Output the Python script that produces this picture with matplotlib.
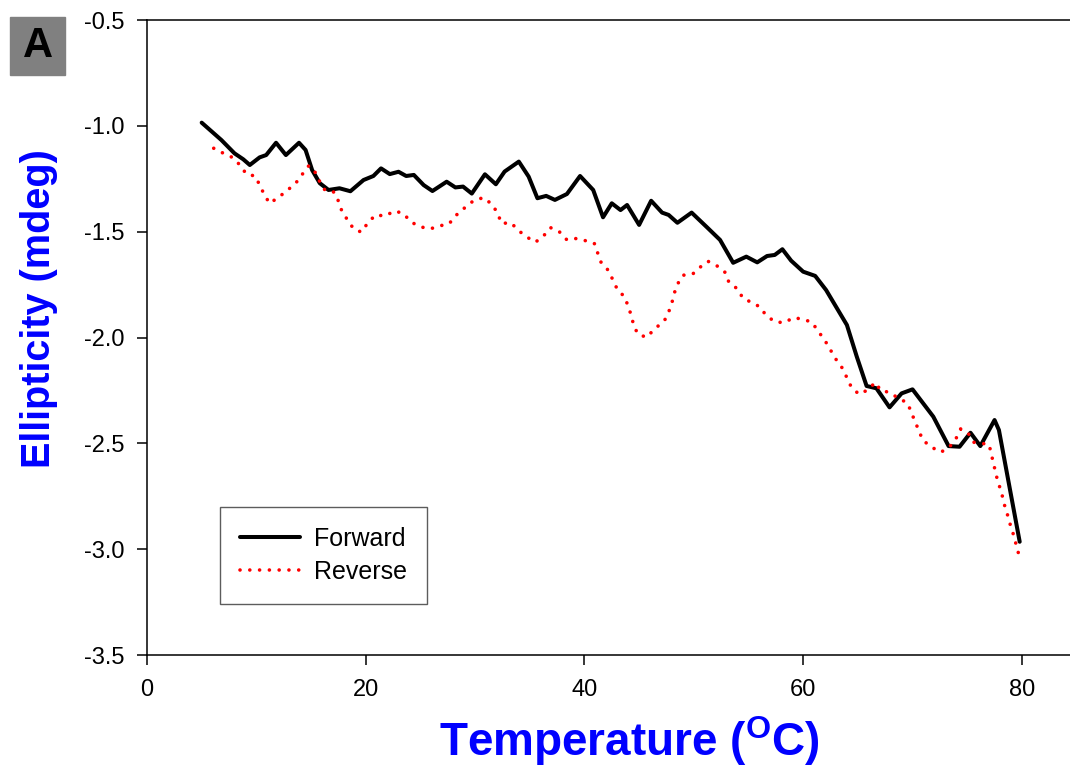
import matplotlib.pyplot as plt
from matplotlib.patches import Rectangle

plt.rcParams['font.family'] = ['Liberation Sans', 'DejaVu Sans']
plt.rcParams['axes.unicode_minus'] = False
plt.rcParams['mathtext.fontset'] = 'custom'
plt.rcParams['mathtext.rm'] = 'Liberation Sans:bold'

# forward scan (heating)
fwd_temp = [5.0, 6.8, 8.0, 8.8, 9.4, 10.3, 10.9, 11.8, 12.7, 13.9, 14.5, 15.1, 15.8,
            16.6, 17.6, 18.6, 19.8, 20.7, 21.4, 22.2, 23.0, 23.7, 24.4, 25.3, 26.1,
            27.4, 28.2, 28.9, 29.7, 30.9, 31.9, 32.7, 34.0, 34.9, 35.7, 36.5, 37.3,
            38.4, 39.6, 40.8, 41.7, 42.5, 43.3, 43.9, 45.0, 46.1, 47.1, 47.7, 48.5,
            49.8, 51.2, 52.4, 53.6, 54.8, 55.8, 56.7, 57.4, 58.1, 58.9, 60.0, 61.1,
            62.1, 64.0, 64.9, 65.8, 66.7, 67.9, 69.0, 70.0, 71.9, 73.3, 74.3, 75.3,
            76.2, 77.5, 77.9, 79.8]
fwd_ellip = [-0.985, -1.067, -1.13, -1.158, -1.185, -1.149, -1.138, -1.08, -1.138, -1.08,
             -1.114, -1.209, -1.271, -1.303, -1.295, -1.309, -1.256, -1.237, -1.201,
             -1.228, -1.217, -1.237, -1.232, -1.28, -1.308, -1.264, -1.291, -1.287,
             -1.32, -1.229, -1.276, -1.216, -1.169, -1.24, -1.342, -1.331, -1.35,
             -1.322, -1.237, -1.303, -1.432, -1.366, -1.398, -1.374, -1.468, -1.354,
             -1.41, -1.421, -1.458, -1.41, -1.479, -1.539, -1.647, -1.618, -1.645,
             -1.615, -1.61, -1.583, -1.637, -1.689, -1.709, -1.776, -1.941, -2.09,
             -2.229, -2.24, -2.33, -2.264, -2.245, -2.374, -2.513, -2.516, -2.45,
             -2.513, -2.39, -2.437, -2.965]

# reverse scan (cooling)
rev_temp = [6.1, 7.0, 7.8, 8.5, 9.1, 9.9, 10.3, 10.7, 11.2, 12.0, 12.8, 13.6, 14.2, 14.8,
            15.4, 15.8, 16.3, 17.1, 17.5, 17.8, 18.3, 18.9, 19.6, 20.2, 20.9, 21.8,
            22.6, 23.4, 24.2, 25.0, 25.9, 26.7, 27.6, 28.3, 29.1, 29.9, 30.8, 31.6,
            32.1, 32.4, 33.3, 33.9, 34.7, 35.5, 36.2, 36.9, 37.7, 38.4, 39.3, 40.2,
            40.9, 41.2, 41.5, 42.2, 42.6, 43.0, 43.7, 44.0, 44.3, 44.5, 44.9, 45.7,
            46.4, 47.3, 47.7, 48.0, 48.2, 48.5, 49.0, 49.9, 50.6, 51.3, 52.2, 52.9,
            53.2, 54.0, 54.5, 55.2, 56.0, 56.6, 57.4, 58.3, 59.1, 60.0, 60.8, 61.4,
            62.0, 62.5, 63.0, 63.6, 64.0, 64.4, 65.1, 65.9, 66.6, 67.1, 67.9, 68.7,
            69.5, 69.9, 70.2, 70.6, 70.9, 71.7, 72.6, 73.4, 74.0, 74.4, 75.1, 75.6,
            76.3, 77.0, 77.2, 77.4, 77.6, 77.8, 78.1, 78.3, 78.5, 78.8, 79.0, 79.3,
            79.5, 79.8]
rev_ellip = [-1.106, -1.13, -1.149, -1.185, -1.229, -1.237, -1.28, -1.322, -1.366, -1.339,
             -1.306, -1.271, -1.229, -1.188, -1.221, -1.264, -1.306, -1.313, -1.355,
             -1.40, -1.442, -1.487, -1.502, -1.458, -1.421, -1.426, -1.402, -1.413,
             -1.456, -1.477, -1.487, -1.473, -1.464, -1.421, -1.385, -1.352, -1.339,
             -1.374, -1.417, -1.461, -1.458, -1.492, -1.524, -1.55, -1.524, -1.481,
             -1.50, -1.539, -1.532, -1.544, -1.555, -1.599, -1.643, -1.684, -1.728,
             -1.772, -1.81, -1.854, -1.898, -1.943, -1.985, -1.999, -1.96, -1.922,
             -1.88, -1.836, -1.793, -1.749, -1.706, -1.70, -1.667, -1.64, -1.664,
             -1.694, -1.738, -1.771, -1.815, -1.832, -1.854, -1.894, -1.926, -1.93,
             -1.906, -1.914, -1.928, -1.972, -2.015, -2.059, -2.103, -2.146, -2.19,
             -2.234, -2.268, -2.248, -2.212, -2.251, -2.259, -2.287, -2.308, -2.352,
             -2.396, -2.44, -2.483, -2.517, -2.542, -2.516, -2.475, -2.432, -2.453,
             -2.495, -2.50, -2.505, -2.55, -2.594, -2.638, -2.681, -2.725, -2.768,
             -2.81, -2.855, -2.898, -2.941, -2.985, -3.04]

x_ticks = [0, 20, 40, 60, 80]
y_ticks = [-3.5, -3.0, -2.5, -2.0, -1.5, -1.0, -0.5]

W, H = 1070, 769
fig = plt.figure(figsize=(W / 100, H / 100), dpi=100)
ax = fig.add_axes([147 / W, 1 - 655 / H, 1 - 147 / W, 635 / H])

ax.plot(fwd_temp, fwd_ellip, color='black', lw=2.9, label='Forward',
        solid_joinstyle='round', solid_capstyle='round')
# round dots: near-zero dash with round caps
ax.plot(rev_temp, rev_ellip, color='red', lw=2.6, linestyle=(0, (0.01, 2.7)),
        dash_capstyle='round', label='Reverse')

ax.set_xlim(0, 84.4)
ax.set_ylim(-3.5, -0.5)
ax.set_xticks(x_ticks)
ax.set_yticks(y_ticks)
ax.set_yticklabels([f'{v:.1f}' for v in y_ticks])
ax.tick_params(direction='out', length=7, width=1.1, labelsize=17)
ax.tick_params(axis='y', pad=9)
ax.tick_params(axis='x', pad=10)
ax.spines['right'].set_visible(False)
for s in ['left', 'top', 'bottom']:
    ax.spines[s].set_linewidth(1.1)

leg = ax.legend(loc='upper left', bbox_to_anchor=(220 / W, 1 - 507 / H),
                bbox_transform=fig.transFigure, fontsize=18, frameon=True,
                fancybox=False, borderaxespad=0, borderpad=0.8, handlelength=2.4,
                handletextpad=0.55, labelspacing=0.35)
leg.get_frame().set_edgecolor('#333333')
leg.get_frame().set_linewidth(1.0)

fig.text(39 / W, 1 - 309 / H, 'Ellipticity (mdeg)', rotation=90, color='blue',
         fontsize=28.5, fontweight='bold', ha='center', va='center')
fig.text(629 / W, 1 - 741 / H, r'Temperature ($^{\mathrm{O}}$C)', color='blue',
         fontsize=33, fontweight='bold', ha='center', va='center')

# panel tag
fig.patches.append(Rectangle((10 / W, 1 - 75 / H), 55 / W, 58 / H,
                             transform=fig.transFigure, color='#808080', zorder=0))
fig.text(37.5 / W, 1 - 46 / H, 'A', fontsize=30, fontweight='bold',
         ha='center', va='center')

fig.savefig('out.png', dpi=100)
